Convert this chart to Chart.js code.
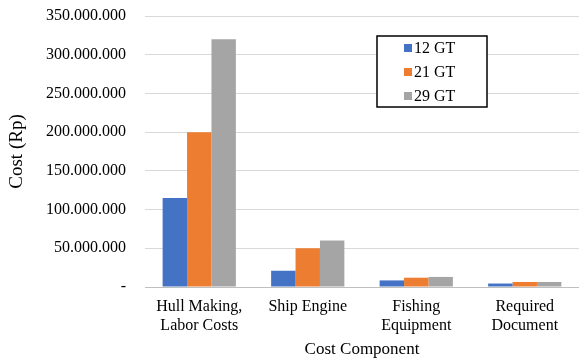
<!DOCTYPE html>
<html>
<head>
<meta charset="utf-8">
<script src="https://cdn.jsdelivr.net/npm/chart.js@4/dist/chart.umd.min.js"></script>
<style>
  html, body { margin: 0; padding: 0; background: #ffffff; }
  #wrap { width: 579px; height: 360px; position: relative; }
</style>
</head>
<body>
<div id="wrap"><canvas id="chart"></canvas></div>
<script>
// Cost components per vessel size (Rp)
const categories = [
  ['Hull Making,', 'Labor Costs'],
  ['Ship Engine'],
  ['Fishing', 'Equipment'],
  ['Required', 'Document']
];
const seriesNames = ['12 GT', '21 GT', '29 GT'];
const cost12GT = [115000000, 21000000, 8500000, 4500000];
const cost21GT = [200000000, 50000000, 12000000, 6500000];
const cost29GT = [320000000, 60000000, 13000000, 6500000];
const seriesColors = ['#4472C4', '#ED7D31', '#A5A5A5'];
const yTicks = [0, 50000000, 100000000, 150000000, 200000000, 250000000, 300000000, 350000000];

const serif = "'Liberation Serif', 'Times New Roman', serif";

function formatRp(v) {
  if (v === 0) return '-';
  return String(v).replace(/\B(?=(\d{3})+(?!\d))/g, '.');
}

// Boxed legend drawn inside the plot area
const boxedLegend = {
  id: 'boxedLegend',
  afterDraw(chart) {
    const ctx = chart.ctx;
    const x = 377, y = 36, w = 110, h = 71;
    ctx.save();
    ctx.fillStyle = '#ffffff';
    ctx.fillRect(x, y, w, h);
    ctx.strokeStyle = '#000000';
    ctx.lineWidth = 1.5;
    ctx.strokeRect(x, y, w, h);
    ctx.font = '16px ' + serif;
    ctx.textBaseline = 'middle';
    chart.data.datasets.forEach((ds, i) => {
      const cy = y + 12 + i * 24;
      ctx.fillStyle = ds.backgroundColor;
      ctx.fillRect(x + 27, cy - 4, 8, 8);
      ctx.fillStyle = '#000000';
      ctx.fillText(ds.label, x + 37, cy + 1);
    });
    ctx.restore();
  }
};

new Chart(document.getElementById('chart'), {
  type: 'bar',
  data: {
    labels: categories,
    datasets: [
      { label: seriesNames[0], data: cost12GT, backgroundColor: seriesColors[0] },
      { label: seriesNames[1], data: cost21GT, backgroundColor: seriesColors[1] },
      { label: seriesNames[2], data: cost29GT, backgroundColor: seriesColors[2] }
    ]
  },
  options: {
    responsive: true,
    maintainAspectRatio: false,
    animation: false,
    layout: { padding: { top: 16, right: 0, left: 6, bottom: 0 } },
    datasets: { bar: { categoryPercentage: 0.675, barPercentage: 1.0 } },
    plugins: {
      legend: { display: false },
      tooltip: { enabled: false }
    },
    scales: {
      x: {
        grid: { display: false, drawTicks: false },
        border: { display: true, color: '#BFBFBF', width: 1 },
        ticks: {
          color: '#000000',
          font: { family: serif, size: 16, lineHeight: 1.2 },
          padding: 10,
          maxRotation: 0,
          autoSkip: false
        },
        title: {
          display: true,
          text: 'Cost Component',
          color: '#000000',
          font: { family: serif, size: 17 },
          padding: { top: 0, bottom: 0 }
        },
        afterFit(scale) { scale.height = 73; }
      },
      y: {
        min: 0,
        max: 350000000,
        afterBuildTicks(scale) { scale.ticks = yTicks.map(v => ({ value: v })); },
        grid: { color: '#D9D9D9', lineWidth: 1, drawTicks: false },
        border: { display: false },
        ticks: {
          color: '#000000',
          font: { family: serif, size: 16 },
          padding: 19,
          callback: (v) => formatRp(v)
        },
        title: {
          display: true,
          text: 'Cost (Rp)',
          color: '#000000',
          font: { family: serif, size: 19 },
          padding: { top: 0, bottom: 0 }
        },
        afterFit(scale) {
          scale.width = 139;
          scale.paddingTop = 0;
          scale.paddingBottom = 0;
        }
      }
    }
  },
  plugins: [boxedLegend]
});
</script>
</body>
</html>
